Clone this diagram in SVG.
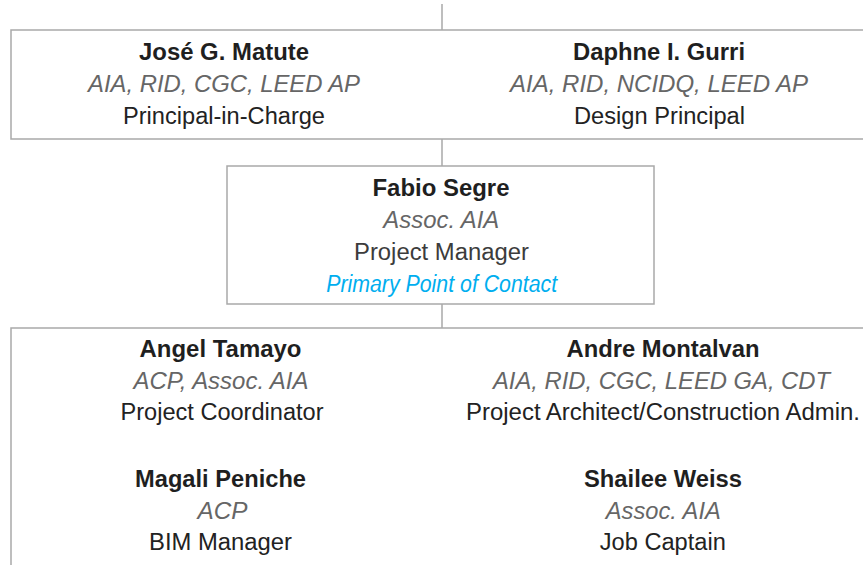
<svg xmlns="http://www.w3.org/2000/svg" width="863" height="565" viewBox="0 0 863 565">
  <style>
    .box { fill: #ffffff; stroke: #a9a9a9; stroke-width: 1.5; }
    .link { stroke: #a9a9a9; stroke-width: 1.5; fill: none; }
    text { font-family: "Liberation Sans", Arial, sans-serif; font-size: 23.5px; text-anchor: middle; }
    .name { font-weight: bold; fill: #1f1f1f; }
    .cred { font-style: italic; fill: #666666; }
    .role { fill: #222222; }
    .pm { fill: #3c3c3c; }
    .poc { font-style: italic; fill: #00aeef; }
  </style>
  <rect width="863" height="565" fill="#ffffff"/>

  <!-- connectors between tiers -->
  <g id="connectors">
    <line class="link" x1="442" y1="4" x2="442" y2="30"/>
    <line class="link" x1="442" y1="139" x2="442" y2="166"/>
    <line class="link" x1="442" y1="304" x2="442" y2="328"/>
  </g>

  <!-- principals tier -->
  <g id="principals">
    <rect class="box" x="11" y="30" width="880" height="109"/>
    <g id="matute">
      <text class="name" x="224" y="59.5" textLength="170" lengthAdjust="spacingAndGlyphs">José G. Matute</text>
      <text class="cred" x="224" y="91.5" textLength="272" lengthAdjust="spacingAndGlyphs">AIA, RID, CGC, LEED AP</text>
      <text class="role" x="224" y="123.5" textLength="202" lengthAdjust="spacingAndGlyphs">Principal-in-Charge</text>
    </g>
    <g id="gurri">
      <text class="name" x="659" y="59.5" textLength="172" lengthAdjust="spacingAndGlyphs">Daphne I. Gurri</text>
      <text class="cred" x="659" y="91.5" textLength="298" lengthAdjust="spacingAndGlyphs">AIA, RID, NCIDQ, LEED AP</text>
      <text class="role" x="659.5" y="123.5" textLength="171" lengthAdjust="spacingAndGlyphs">Design Principal</text>
    </g>
  </g>

  <!-- project manager -->
  <g id="segre">
    <rect class="box" x="227" y="166" width="427" height="138"/>
    <text class="name" x="441" y="195.5" textLength="137" lengthAdjust="spacingAndGlyphs">Fabio Segre</text>
    <text class="cred" x="441.3" y="227.5" textLength="116" lengthAdjust="spacingAndGlyphs">Assoc. AIA</text>
    <text class="pm" x="441.5" y="260" font-size="24.5" textLength="175" lengthAdjust="spacingAndGlyphs">Project Manager</text>
    <text class="poc" x="441.7" y="291.5" textLength="231" lengthAdjust="spacingAndGlyphs">Primary Point of Contact</text>
  </g>

  <!-- project team tier -->
  <g id="team">
    <rect class="box" x="11" y="328" width="880" height="300"/>
    <g id="tamayo">
      <text class="name" x="220.5" y="356.5" textLength="162" lengthAdjust="spacingAndGlyphs">Angel Tamayo</text>
      <text class="cred" x="221" y="388.5" textLength="175" lengthAdjust="spacingAndGlyphs">ACP, Assoc. AIA</text>
      <text class="role" x="222" y="420" textLength="203" lengthAdjust="spacingAndGlyphs">Project Coordinator</text>
    </g>
    <g id="montalvan">
      <text class="name" x="663" y="356.5" textLength="193" lengthAdjust="spacingAndGlyphs">Andre Montalvan</text>
      <text class="cred" x="661.5" y="388.5" textLength="337" lengthAdjust="spacingAndGlyphs">AIA, RID, CGC, LEED GA, CDT</text>
      <text class="role" x="663" y="420" textLength="394" lengthAdjust="spacingAndGlyphs">Project Architect/Construction Admin.</text>
    </g>
    <g id="peniche">
      <text class="name" x="220.5" y="486.5" textLength="171" lengthAdjust="spacingAndGlyphs">Magali Peniche</text>
      <text class="cred" x="222.5" y="518.5" textLength="50" lengthAdjust="spacingAndGlyphs">ACP</text>
      <text class="role" x="220.5" y="550" textLength="143" lengthAdjust="spacingAndGlyphs">BIM Manager</text>
    </g>
    <g id="weiss">
      <text class="name" x="663" y="486.5" textLength="158" lengthAdjust="spacingAndGlyphs">Shailee Weiss</text>
      <text class="cred" x="663.3" y="518.5" textLength="115" lengthAdjust="spacingAndGlyphs">Assoc. AIA</text>
      <text class="role" x="662.8" y="550" textLength="126" lengthAdjust="spacingAndGlyphs">Job Captain</text>
    </g>
  </g>
</svg>
